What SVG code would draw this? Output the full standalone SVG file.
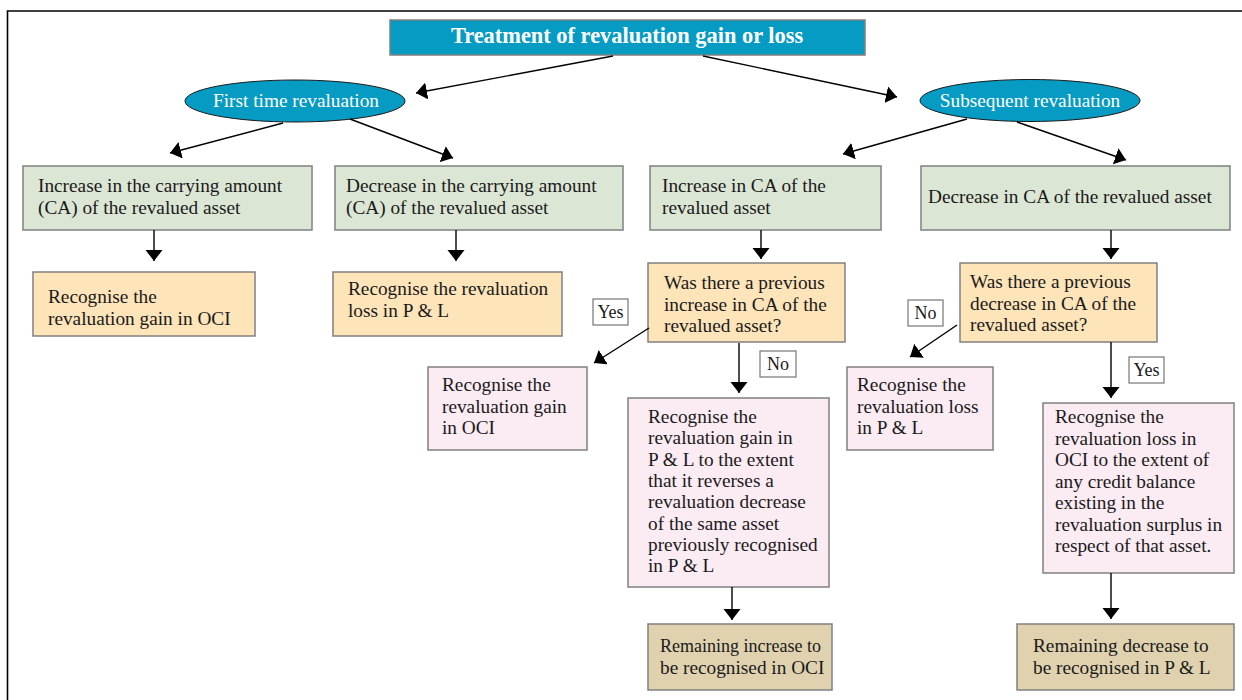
<svg xmlns="http://www.w3.org/2000/svg" width="1242" height="700" viewBox="0 0 1242 700">
<defs>
<style>
text{font-family:"Liberation Serif","Times New Roman",serif;font-size:19.3px;fill:#1a1a1a}
.title{font-weight:bold;font-size:22.4px;fill:#fff}
.ell{fill:#fff}
.lbl{font-size:18px}
.box{stroke:#808080;stroke-width:1.5}
.blue{fill:#069bc3}
.green{fill:#dce6d5}
.orange{fill:#fde4b9}
.pink{fill:#fbebf3}
.tan{fill:#e0d2af}
.lab{fill:#fff;stroke:#808080;stroke-width:1.3}
.conn line{stroke:#000;stroke-width:1.4;marker-end:url(#ah)}
</style>
<marker id="ah" markerUnits="userSpaceOnUse" markerWidth="12" markerHeight="18" refX="11" refY="8.5" orient="auto">
<path d="M0,0 L11,8.5 L0,17 z" fill="#000"/>
</marker>
</defs>
<rect width="1242" height="700" fill="#fff"/>
<path d="M7.5,700 V11 H1242" fill="none" stroke="#000" stroke-width="1.6"/>

<g id="title">
<rect class="box blue" x="390" y="20" width="475" height="35"/>
<text class="title" x="627" y="43" text-anchor="middle">Treatment of revaluation gain or loss</text>
</g>
<g id="first">
<ellipse class="blue" cx="295" cy="101" rx="110" ry="21" stroke="#1a1a1a" stroke-width="1"/>
<text class="ell" x="296" y="107" text-anchor="middle">First time revaluation</text>
</g>
<g id="subsequent">
<ellipse class="blue" cx="1030" cy="100.5" rx="110" ry="21" stroke="#1a1a1a" stroke-width="1"/>
<text class="ell" x="1030" y="107" text-anchor="middle">Subsequent revaluation</text>
</g>

<g id="incCA1">
<rect class="box green" x="23" y="166" width="289" height="64"/>
<text x="38" y="192">Increase in the carrying amount</text>
<text x="38" y="213.5">(CA) of the revalued asset</text>
</g>
<g id="decCA1">
<rect class="box green" x="335" y="166" width="288" height="64"/>
<text x="346" y="192">Decrease in the carrying amount</text>
<text x="346" y="213.5">(CA) of the revalued asset</text>
</g>
<g id="incCA2">
<rect class="box green" x="650" y="166" width="231" height="64"/>
<text x="662" y="192">Increase in CA of the</text>
<text x="662" y="213.5">revalued asset</text>
</g>
<g id="decCA2">
<rect class="box green" x="921" y="166" width="309" height="64"/>
<text x="928" y="203">Decrease in CA of the revalued asset</text>
</g>

<g id="gainOCI1">
<rect class="box orange" x="33" y="272" width="222" height="64"/>
<text x="48" y="303">Recognise the</text>
<text x="48" y="324.5">revaluation gain in OCI</text>
</g>
<g id="lossPL1">
<rect class="box orange" x="333" y="272" width="229" height="64"/>
<text x="348" y="295">Recognise the revaluation</text>
<text x="348" y="316.5">loss in P &amp; L</text>
</g>
<g id="qInc">
<rect class="box orange" x="648" y="263" width="197" height="79"/>
<text x="664" y="289">Was there a previous</text>
<text x="664" y="310.5">increase in CA of the</text>
<text x="664" y="332">revalued asset?</text>
</g>
<g id="qDec">
<rect class="box orange" x="960" y="263" width="197" height="79"/>
<text x="970" y="288">Was there a previous</text>
<text x="970" y="309.5">decrease in CA of the</text>
<text x="970" y="331">revalued asset?</text>
</g>

<g id="gainOCI2">
<rect class="box pink" x="428" y="367" width="159" height="83"/>
<text x="442" y="391">Recognise the</text>
<text x="442" y="412.5">revaluation gain</text>
<text x="442" y="434">in OCI</text>
</g>
<g id="gainPL">
<rect class="box pink" x="628" y="398" width="201" height="189"/>
<text x="648" y="423">Recognise the</text>
<text x="648" y="444.3">revaluation gain in</text>
<text x="648" y="465.6">P &amp; L to the extent</text>
<text x="648" y="486.9">that it reverses a</text>
<text x="648" y="508.2">revaluation decrease</text>
<text x="648" y="529.5">of the same asset</text>
<text x="648" y="550.8">previously recognised</text>
<text x="648" y="572.1">in P &amp; L</text>
</g>
<g id="lossPL2">
<rect class="box pink" x="847" y="367" width="146" height="83"/>
<text x="857" y="391">Recognise the</text>
<text x="857" y="412.5">revaluation loss</text>
<text x="857" y="434">in P &amp; L</text>
</g>
<g id="lossOCI">
<rect class="box pink" x="1043" y="403" width="191" height="170"/>
<text x="1055" y="423">Recognise the</text>
<text x="1055" y="444.5">revaluation loss in</text>
<text x="1055" y="466">OCI to the extent of</text>
<text x="1055" y="487.5">any credit balance</text>
<text x="1055" y="509">existing in the</text>
<text x="1055" y="530.5">revaluation surplus in</text>
<text x="1055" y="552">respect of that asset.</text>
</g>

<g id="remInc">
<rect class="box tan" x="648" y="624" width="184" height="66"/>
<text x="660" y="652" textLength="161" lengthAdjust="spacingAndGlyphs">Remaining increase to</text>
<text x="660" y="673.5">be recognised in OCI</text>
</g>
<g id="remDec">
<rect class="box tan" x="1017" y="624" width="217" height="66"/>
<text x="1033" y="652">Remaining decrease to</text>
<text x="1033" y="673.5">be recognised in P &amp; L</text>
</g>

<g class="conn" id="connectors">
<line x1="613" y1="56" x2="416" y2="93"/>
<line x1="703" y1="56" x2="897" y2="97"/>
<line x1="283" y1="123" x2="170" y2="153"/>
<line x1="350" y1="119" x2="453" y2="158"/>
<line x1="967" y1="119" x2="843" y2="154"/>
<line x1="1017" y1="122" x2="1126" y2="160"/>
<line x1="154" y1="230" x2="154" y2="261"/>
<line x1="456" y1="230" x2="456" y2="261"/>
<line x1="761" y1="230" x2="761" y2="259"/>
<line x1="1111" y1="230" x2="1111" y2="259"/>
<line x1="649" y1="328" x2="594" y2="363"/>
<line x1="739" y1="343" x2="739" y2="393"/>
<line x1="957" y1="325" x2="910" y2="357"/>
<line x1="1111" y1="342" x2="1111" y2="398"/>
<line x1="732" y1="587" x2="732" y2="620"/>
<line x1="1111" y1="573" x2="1111" y2="619"/>
</g>

<g id="labels">
<rect class="lab" x="593" y="299" width="35" height="26"/>
<text class="lbl" x="610.5" y="318" text-anchor="middle">Yes</text>
<rect class="lab" x="760" y="351" width="36" height="26"/>
<text class="lbl" x="778" y="370" text-anchor="middle">No</text>
<rect class="lab" x="908" y="300" width="35" height="26"/>
<text class="lbl" x="925.5" y="319" text-anchor="middle">No</text>
<rect class="lab" x="1129" y="357" width="35" height="26"/>
<text class="lbl" x="1146.5" y="376" text-anchor="middle">Yes</text>
</g>
</svg>
